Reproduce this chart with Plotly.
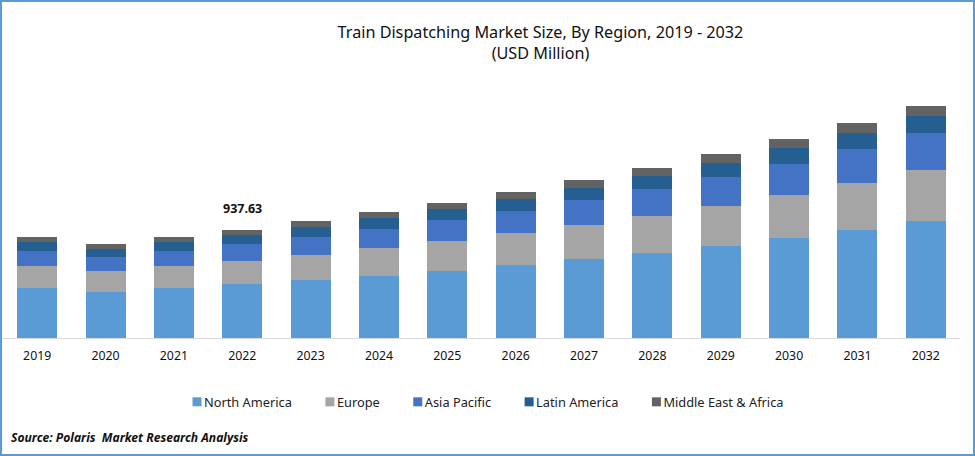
import plotly.graph_objects as go

years = ["2019","2020","2021","2022","2023","2024","2025","2026","2027","2028","2029","2030","2031","2032"]
north_america = [437,399,437,469,504,538,582,634,686,738,799,868,938,1016]
europe = [189,182,189,200,217,243,260,278,295,321,347,373,408,443]
asia_pacific = [130,122,130,148,156,165,182,191,217,234,252,269,295,321]
latin_america = [78,69,78,78,87,95,95,104,104,113,122,139,139,148]
mea = [43,43,43,42.63,52,52,52,61,69,69,78,78,87,87]
names = ["North America","Europe","Asia Pacific","Latin America","Middle East & Africa"]
colors = ["#5B9BD5","#A5A5A5","#4472C4","#255E91","#636363"]
series = [north_america,europe,asia_pacific,latin_america,mea]
FONT = "Noto Sans"
W,H = 975,456
L,R,T,B = 3,15,90,118

fig = go.Figure()
for n,c,v in zip(names,colors,series):
    fig.add_bar(x=years,y=v,name=n,marker=dict(color=c,line=dict(width=0)))

pw,ph = W-L-R,H-T-B
fig.update_layout(
    width=W,height=H,barmode="stack",bargap=0.415,
    margin=dict(l=L,r=R,t=T,b=B,autoexpand=False),
    paper_bgcolor="white",plot_bgcolor="white",
    font=dict(family=FONT,size=12,color="#111111"),
    title=dict(text="Train Dispatching Market Size, By Region, 2019 - 2032<br>(USD Million)",
               x=540.5/W,xanchor="center",y=1-38/H,yanchor="top",
               font=dict(family=FONT,size=16.2,color="#111111")),
    xaxis=dict(type="category",showgrid=False,showline=True,linecolor="#D9D9D9",linewidth=1,
               ticks="",tickfont=dict(size=12.3,color="#111111"),ticklabelstandoff=6),
    yaxis=dict(visible=False,range=[0,2153],showgrid=False),
    legend=dict(orientation="h",x=(476.5-L)/pw,xanchor="center",y=-(396-338-9)/ph,yanchor="top",
                font=dict(size=12.8,color="#222222"),itemwidth=30,
                bgcolor="rgba(0,0,0,0)",traceorder="normal"),
    annotations=[
        dict(x=years.index("2022"),y=sum(s[3] for s in series),xref="x",yref="y",text="<b>937.63</b>",showarrow=False,
             yanchor="bottom",yshift=11,font=dict(size=12.5,color="#111111")),
        dict(xref="paper",yref="paper",x=(9-L)/pw,y=-(437-338)/ph,xanchor="left",yanchor="middle",
             text="<b><i>Source: Polaris  Market Research Analysis</i></b>",showarrow=False,
             font=dict(size=12.1,color="#111111")),
    ],
    shapes=[dict(type="rect",xref="paper",yref="paper",
                 x0=(1-L)/pw,x1=(974-L)/pw,y0=-(455-(H-B))/ph,y1=1+(T-1)/ph,
                 line=dict(color="#5B9BD5",width=2),fillcolor="rgba(0,0,0,0)")],
)
fig.write_html("out.html",config={"displayModeBar":False},
               post_script="document.body.style.margin='0';document.documentElement.style.overflow='hidden';"
                           "document.querySelectorAll('.legendpoints path').forEach(function(p){p.setAttribute('transform','translate(33,0) scale(0.75)');});")
